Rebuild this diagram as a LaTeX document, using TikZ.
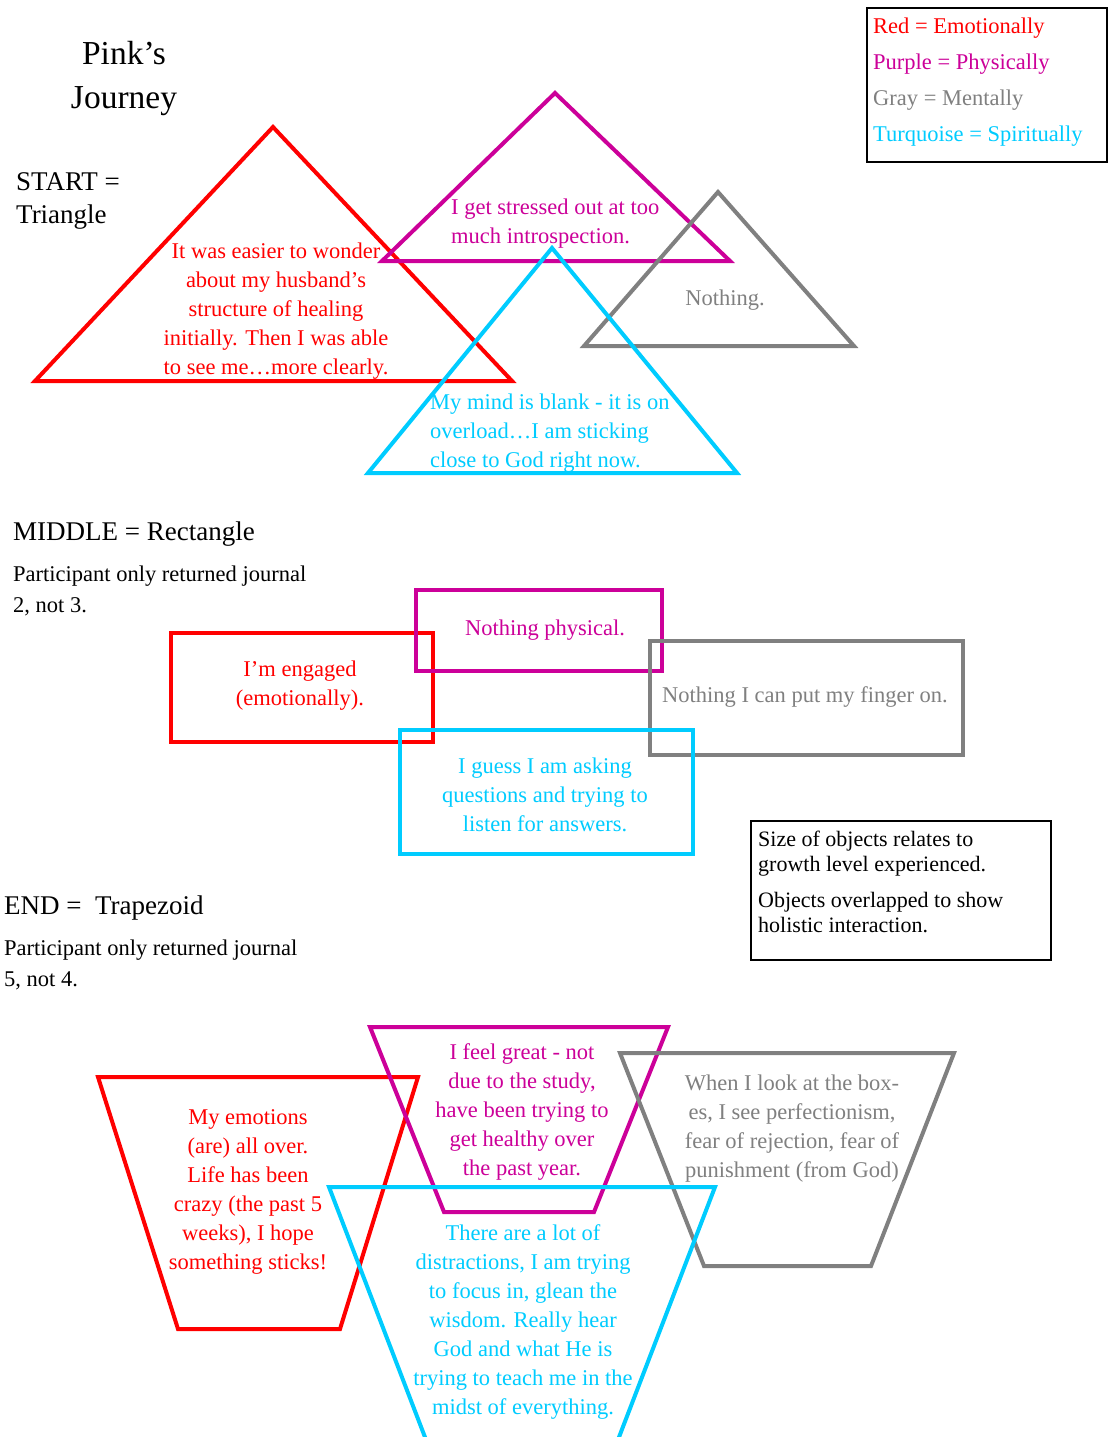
\documentclass[tikz,border=0pt]{standalone}
\usepackage{fontspec}
\setmainfont{Liberation Serif}
\definecolor{emo}{RGB}{255,0,0}
\definecolor{phys}{RGB}{204,0,153}
\definecolor{ment}{RGB}{128,128,128}
\definecolor{spir}{RGB}{0,204,255}

\begin{document}
\begin{tikzpicture}[x=1pt,y=-1pt,
  outline/.style={line width=4pt, line join=miter},
  body/.style={font=\fontsize{22.5}{29}\selectfont, inner sep=0pt},
  head/.style={font=\fontsize{27}{33}\selectfont, inner sep=0pt, anchor=west, align=left},
  plain/.style={font=\fontsize{22.5}{31}\selectfont, inner sep=0pt, anchor=west, align=left},
]
\useasboundingbox (0,0) rectangle (1113,1437);
\fill[white] (0,0) rectangle (1113,1437);

% ---------- headings ----------
\node[font=\fontsize{33.5}{44}\selectfont, inner sep=0pt, align=center] (title) at (124,78) {Pink’s\\Journey};
\node[head] (start) at (16,201) {START =\\Triangle};
\node[head] (middle) at (13,534) {MIDDLE = Rectangle};
\node[plain] (midnote) at (13,590.5) {Participant only returned journal\\2, not 3.};
\node[head] (endh) at (4,908) {END =\ \ Trapezoid};
\node[plain] (endnote) at (4,965) {Participant only returned journal\\5, not 4.};

% ---------- legend ----------
\draw[line width=1.5pt] (867,8) rectangle (1107,162);
\node[body, anchor=west, align=left, font=\fontsize{22.5}{36}\selectfont] (legend) at (873,82)
  {\textcolor{emo}{Red = Emotionally}\\
   \textcolor{phys}{Purple = Physically}\\
   \textcolor{ment}{Gray = Mentally}\\
   \textcolor{spir}{Turquoise = Spiritually}};

% ---------- start: triangles ----------
\draw[outline, emo]  (273,127) -- (512,381) -- (35,381) -- cycle;
\draw[outline, phys] (555,93) -- (730,261) -- (382,261) -- cycle;
\draw[outline, ment] (718,192) -- (854,346) -- (584,346) -- cycle;
\draw[outline, spir] (552,248) -- (737,473) -- (368,473) -- cycle;

\node[body, emo, align=center] (t-emo) at (276,311)
  {It was easier to wonder\\about my husband’s\\structure of healing\\initially. Then I was able\\to see me…more clearly.};
\node[body, phys, align=left, anchor=west] (t-phys) at (451,223.5)
  {I get stressed out at too\\much introspection.};
\node[body, ment] (t-ment) at (725,300) {Nothing.};
\node[body, spir, align=left, anchor=west] (t-spir) at (430,433)
  {My mind is blank - it is on\\overload…I am sticking\\close to God right now.};

% ---------- middle: rectangles ----------
\draw[outline, emo]  (171,633) rectangle (433,742);
\draw[outline, phys] (416,590) rectangle (662,671);
\draw[outline, ment] (650,641) rectangle (963,755);
\draw[outline, spir] (400,730) rectangle (693,854);

\node[body, emo, align=center] (r-emo) at (300,685.5) {I’m engaged\\(emotionally).};
\node[body, phys] (r-phys) at (545,630) {Nothing physical.};
\node[body, ment] (r-ment) at (805,697) {Nothing I can put my finger on.};
\node[body, spir, align=center] (r-spir) at (545,795)
  {I guess I am asking\\questions and trying to\\listen for answers.};

% ---------- note box ----------
\draw[line width=1.5pt] (751,821) rectangle (1051,960);
\node[body, anchor=west, align=left, font=\fontsize{22}{25}\selectfont] (note) at (758,882)
  {Size of objects relates to\\growth level experienced.\\[11pt]Objects overlapped to show\\holistic interaction.};

% ---------- end: trapezoids ----------
\draw[outline, emo]  (98,1077) -- (418,1077) -- (340,1329) -- (178,1329) -- cycle;
\draw[outline, phys] (370,1027) -- (668,1027) -- (594,1212) -- (444,1212) -- cycle;
\draw[outline, ment] (620,1053) -- (954,1053) -- (871,1266) -- (704,1266) -- cycle;
\begin{scope}
  \clip (0,0) rectangle (1113,1437);
  \draw[outline, spir] (329,1187) -- (715,1187) -- (611,1458) -- (433,1458) -- cycle;
\end{scope}

\node[body, emo, align=center] (z-emo) at (248,1192)
  {My emotions\\(are) all over.\\Life has been\\crazy (the past 5\\weeks), I hope\\something sticks!};
\node[body, phys, align=center] (z-phys) at (522,1112)
  {I feel great - not\\due to the study,\\have been trying to\\get healthy over\\the past year.};
\node[body, ment, align=center] (z-ment) at (792,1128.5)
  {When I look at the box-\\es, I see perfectionism,\\fear of rejection, fear of\\punishment (from God)};
\node[body, spir, align=center] (z-spir) at (523,1322)
  {There are a lot of\\distractions, I am trying\\to focus in, glean the\\wisdom. Really hear\\God and what He is\\trying to teach me in the\\midst of everything.};
\end{tikzpicture}
\end{document}
